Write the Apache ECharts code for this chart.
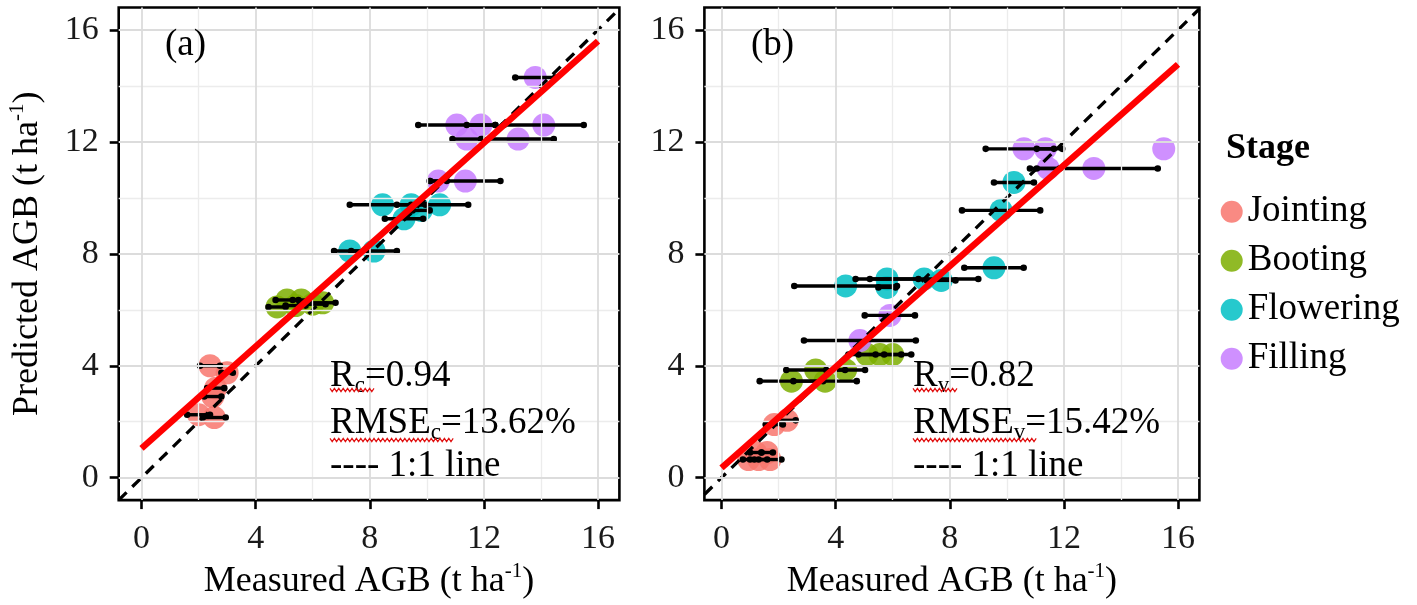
<!DOCTYPE html>
<html><head><meta charset="utf-8">
<script src="https://cdn.jsdelivr.net/npm/echarts@6/dist/echarts.min.js"></script>
<style>html,body{margin:0;padding:0;background:#fff}#c{width:1417px;height:605px}</style>
</head><body><div id="c"></div>
<script>
// ---------- DATA ----------
const stages = ['Jointing', 'Booting', 'Flowering', 'Filling'];
const tickValues = [0, 4, 8, 12, 16];
const minorValues = [2, 6, 10, 14];
const panelLabels = ['(a)', '(b)'];
const xAxisTitle = 'Measured AGB (t ha';
const yAxisTitle = 'Predicted AGB (t ha';

// Panel (a): calibration
const calJointingX = [2.4, 3.0, 2.6, 2.5, 2.0, 2.55];
const calJointingY = [4.0, 3.75, 3.2, 2.9, 2.25, 2.15];
const calJointingE = [0.35, 0.2, 0.3, 0.3, 0.4, 0.4];
const calBootingX = [4.75, 5.1, 5.6, 6.0, 6.35, 5.4];
const calBootingY = [6.1, 6.35, 6.35, 6.2, 6.25, 6.15];
const calBootingE = [0.3, 0.4, 0.3, 0.45, 0.45, 0.35];
const calFloweringX = [7.3, 8.15, 8.45, 9.45, 10.45, 9.2, 9.8];
const calFloweringY = [8.1, 8.1, 9.75, 9.75, 9.75, 9.25, 9.55];
const calFloweringE = [0.55, 0.8, 1.15, 0.5, 1.0, 0.67, 0.3];
const calFillingX = [10.4, 11.35, 11.05, 11.9, 14.1, 11.4, 13.2, 13.8];
const calFillingY = [10.6, 10.6, 12.6, 12.6, 12.6, 12.1, 12.1, 14.3];
const calFillingE = [0.3, 1.23, 1.35, 0.5, 1.4, 0.5, 1.25, 0.7];

// Panel (b): validation
const valJointingX = [0.95, 1.3, 1.7, 1.2, 1.6, 1.85, 2.3];
const valJointingY = [0.65, 0.65, 0.65, 0.9, 0.9, 1.9, 2.05];
const valJointingE = [0.2, 0.3, 0.4, 0.2, 0.2, 0.3, 0.3];
const valBootingX = [5.1, 5.55, 6.0, 3.3, 4.35, 2.45, 3.63];
const valBootingY = [4.4, 4.4, 4.4, 3.85, 3.85, 3.45, 3.45];
const valBootingE = [0.3, 1.1, 0.3, 1.03, 0.68, 1.11, 1.11];
const valFloweringX = [4.35, 5.8, 5.8, 7.1, 7.7, 9.55, 9.8, 10.25];
const valFloweringY = [6.85, 7.1, 6.8, 7.1, 7.05, 7.5, 9.55, 10.55];
const valFloweringE = [1.8, 1.1, 0.3, 1.9, 0.5, 1.04, 1.37, 0.7];
const valFillingX = [4.85, 5.9, 10.6, 11.35, 11.45, 13.05, 15.5];
const valFillingY = [4.9, 5.8, 11.75, 11.75, 11.05, 11.05, 11.75];
const valFillingE = [1.96, 0.88, 1.34, 0.3, 0.4, 2.24, 0];

// fitted regression lines (end points)
const calFitX = [0, 16];
const calFitY = [1.05, 15.6];
const valFitX = [0, 16];
const valFitY = [0.35, 14.77];

// statistics text
const calStats = ['c', '0.94', '13.62%'];
const valStats = ['v', '0.82', '15.42%'];

// axis limits
const calXLim = [-0.8, 16.75];
const valXLim = [-0.6, 16.75];
const yLim = [-0.8, 16.8];

// ---------- STYLE ----------
const stageColors = ['#F8766D', '#7CAE00', '#00BFC4', '#C77CFF'];
const FONT = '"Liberation Serif", "Times New Roman", serif';

const panels = [
  { xs: [calJointingX, calBootingX, calFloweringX, calFillingX],
    ys: [calJointingY, calBootingY, calFloweringY, calFillingY],
    es: [calJointingE, calBootingE, calFloweringE, calFillingE],
    fitX: calFitX, fitY: calFitY, xLim: calXLim, stats: calStats },
  { xs: [valJointingX, valBootingX, valFloweringX, valFillingX],
    ys: [valJointingY, valBootingY, valFloweringY, valFillingY],
    es: [valJointingE, valBootingE, valFloweringE, valFillingE],
    fitX: valFitX, fitY: valFitY, xLim: valXLim, stats: valStats }
];

const gridPos = [
  { left: 118.7, top: 7.5, width: 500.7, height: 495 },
  { left: 704.4, top: 7.5, width: 495, height: 495 }
];

const titleRich = {
  m: { fontFamily: FONT, fontSize: 36, color: '#000', lineHeight: 42 },
  s: { fontFamily: FONT, fontSize: 21, color: '#000', verticalAlign: 'top', lineHeight: 20 }
};

const xAxes = [], yAxes = [], grids = [], series = [];
panels.forEach((p, i) => {
  grids.push(Object.assign({ show: true, borderColor: '#000', borderWidth: 2.6, backgroundColor: '#fff', containLabel: false }, gridPos[i]));
  xAxes.push({
    type: 'value', gridIndex: i, min: p.xLim[0], max: p.xLim[1],
    axisLine: { show: false, onZero: false },
    axisTick: { show: true, customValues: tickValues, length: 9, lineStyle: { color: '#000', width: 2.6 } },
    axisLabel: { customValues: tickValues, margin: 22, fontFamily: FONT, fontSize: 34, color: '#1a1a1a' },
    splitLine: { show: false },
    name: '{m|' + xAxisTitle + '}{s|-1}{m|)}', nameLocation: 'middle', nameGap: 53,
    nameTextStyle: { rich: titleRich }
  });
  yAxes.push({
    type: 'value', gridIndex: i, min: yLim[0], max: yLim[1],
    axisLine: { show: false, onZero: false },
    axisTick: { show: true, customValues: tickValues, length: 9, lineStyle: { color: '#000', width: 2.6 } },
    axisLabel: { customValues: tickValues, margin: 20, fontFamily: FONT, fontSize: 34, color: '#1a1a1a' },
    splitLine: { show: false },
    name: i === 0 ? '{m|' + yAxisTitle + '}{s|-1}{m|)}' : '', nameLocation: 'middle', nameGap: 70,
    nameTextStyle: { rich: titleRich }
  });

  // grid lines through the axes
  const major = { color: '#dcdcdc', width: 1.8, type: 'solid' };
  const minor = { color: '#ececec', width: 1.3, type: 'solid' };
  const ml = [];
  minorValues.forEach(v => { ml.push({ xAxis: v, lineStyle: minor }); ml.push({ yAxis: v, lineStyle: minor }); });
  tickValues.forEach(v => { ml.push({ xAxis: v, lineStyle: major }); ml.push({ yAxis: v, lineStyle: major }); });
  series.push({
    type: 'line', xAxisIndex: i, yAxisIndex: i, data: [], z: 1, silent: true,
    markLine: { silent: true, symbol: ['none', 'none'], label: { show: false }, animation: false, data: ml }
  });

  // points
  stages.forEach((s, k) => {
    series.push({
      type: 'scatter', name: s, xAxisIndex: i, yAxisIndex: i, z: 2,
      symbol: 'circle', symbolSize: 23,
      itemStyle: { color: stageColors[k], opacity: 0.85 },
      data: p.xs[k].map((x, j) => [x, p.ys[k][j]])
    });
  });

  // horizontal error bars
  const eb = [];
  stages.forEach((s, k) => p.xs[k].forEach((x, j) => eb.push([x, p.ys[k][j], p.es[k][j]])));
  series.push({
    type: 'custom', xAxisIndex: i, yAxisIndex: i, z: 3, silent: true,
    dimensions: ['x', 'y', 'e'], encode: { x: 0, y: 1 },
    renderItem: (params, api) => {
      const x = api.value(0), y = api.value(1), e = api.value(2);
      if (!e) return null;
      const a = api.coord([x - e, y]), b = api.coord([x + e, y]);
      return { type: 'group', children: [
        { type: 'line', shape: { x1: a[0], y1: a[1], x2: b[0], y2: b[1] }, style: { stroke: '#000', lineWidth: 3.4 } },
        { type: 'circle', shape: { cx: a[0], cy: a[1], r: 3.3 }, style: { fill: '#000' } },
        { type: 'circle', shape: { cx: b[0], cy: b[1], r: 3.3 }, style: { fill: '#000' } }
      ] };
    },
    data: eb
  });

  // 1:1 line
  const lo = Math.max(p.xLim[0], yLim[0]), hi = Math.min(p.xLim[1], yLim[1]);
  series.push({
    type: 'line', xAxisIndex: i, yAxisIndex: i, z: 4, silent: true, symbol: 'none', clip: true,
    lineStyle: { color: '#000', width: 3.3, type: [11, 8] },
    data: [[lo, lo], [hi, hi]]
  });
  // fitted line
  series.push({
    type: 'line', xAxisIndex: i, yAxisIndex: i, z: 5, silent: true, symbol: 'none',
    lineStyle: { color: '#ff0000', width: 6.5 },
    data: p.fitX.map((x, j) => [x, p.fitY[j]])
  });
});

// ---------- annotations ----------
function squiggle(x0, x1, y) {
  const pts = [];
  for (let x = x0, n = 0; x <= x1; x += 2.2, n++) pts.push([x, y + (n % 2 ? 1.6 : -1.6)]);
  return pts;
}
const annRich = {
  m: { fontFamily: FONT, fontSize: 37, fill: '#000', lineHeight: 42 },
  s: { fontFamily: FONT, fontSize: 23, fill: '#000', verticalAlign: 'bottom', lineHeight: 23 }
};
const annX = [330, 913];
const graphics = [];
panels.forEach((p, i) => {
  const x0 = annX[i];
  graphics.push({ type: 'text', z: 100, x: [165, 751][i], y: 45, style: { text: panelLabels[i], font: '37px ' + FONT, fill: '#000', verticalAlign: 'middle' } });
  graphics.push({ type: 'text', z: 100, x: x0, y: 376, style: { text: '{m|R}{s|' + p.stats[0] + '}{m|=' + p.stats[1] + '}', rich: annRich, verticalAlign: 'middle' } });
  graphics.push({ type: 'text', z: 100, x: x0, y: 423, style: { text: '{m|RMSE}{s|' + p.stats[0] + '}{m|=' + p.stats[2] + '}', rich: annRich, verticalAlign: 'middle' } });
  graphics.push({ type: 'text', z: 100, x: x0, y: 466, style: { text: '---- 1:1 line', font: '37px ' + FONT, fill: '#000', verticalAlign: 'middle' } });
  graphics.push({ type: 'polyline', z: 100, shape: { points: squiggle(x0, x0 + 45, 390) }, style: { stroke: '#e01010', lineWidth: 1.2, fill: null } });
  graphics.push({ type: 'polyline', z: 100, shape: { points: squiggle(x0, x0 + 125, 440) }, style: { stroke: '#e01010', lineWidth: 1.2, fill: null } });
});

const chart = echarts.init(document.getElementById('c'), null, { renderer: 'canvas' });
chart.setOption({
  animation: false,
  backgroundColor: '#fff',
  title: { text: 'Stage', left: 1226, top: 131, padding: 0, textStyle: { fontFamily: FONT, fontSize: 36, fontWeight: 'bold', color: '#000' } },
  legend: {
    data: stages, orient: 'vertical', left: 1220.7, top: 190.7, padding: 0,
    itemWidth: 22, itemHeight: 22, itemGap: 7, icon: 'circle', selectedMode: false,
    textStyle: { fontFamily: FONT, fontSize: 37, lineHeight: 42, color: '#000' }
  },
  grid: grids, xAxis: xAxes, yAxis: yAxes, series: series, graphic: graphics
});
</script></body></html>
